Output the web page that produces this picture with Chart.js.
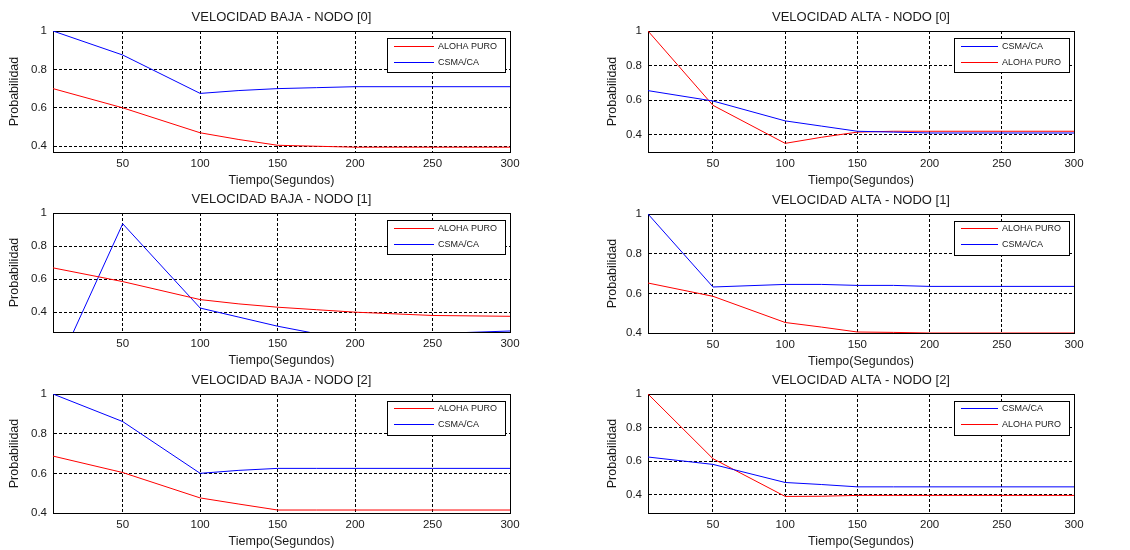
<!DOCTYPE html>
<html>
<head>
<meta charset="utf-8">
<script src="https://cdn.jsdelivr.net/npm/chart.js@4.4.0/dist/chart.umd.min.js"></script>
<style>
  body { margin: 0; background: #fff; width: 1130px; height: 550px; overflow: hidden; position: relative; }
  canvas { position: absolute; }
</style>
</head>
<body>
<script>
// Tiempo (segundos) of each sample, and the axis ticks
const tiempo = [5, 50, 100, 125, 150, 175, 200, 250, 300];
const xTicks = [50, 100, 150, 200, 250, 300];
const yTicks = [0.4, 0.6, 0.8, 1];

// velocidad baja
const bajaNodo0Aloha = [0.70, 0.60, 0.47, 0.435, 0.405, 0.40, 0.395, 0.395, 0.395];
const bajaNodo0Csma  = [1.00, 0.875, 0.675, 0.69, 0.70, 0.705, 0.71, 0.71, 0.71];
const bajaNodo1Aloha = [0.668, 0.585, 0.476, 0.45, 0.43, 0.415, 0.40, 0.38, 0.375];
const bajaNodo1Csma  = [0.01, 0.935, 0.425, 0.37, 0.315, 0.27, 0.26, 0.27, 0.286];
const bajaNodo2Aloha = [0.687, 0.604, 0.476, 0.445, 0.415, 0.415, 0.415, 0.415, 0.415];
const bajaNodo2Csma  = [1.00, 0.861, 0.60, 0.615, 0.625, 0.625, 0.625, 0.625, 0.625];

// velocidad alta
const altaNodo0Csma  = [0.655, 0.595, 0.48, 0.45, 0.42, 0.415, 0.41, 0.41, 0.41];
const altaNodo0Aloha = [1.00, 0.57, 0.35, 0.385, 0.415, 0.42, 0.42, 0.42, 0.42];
const altaNodo1Aloha = [0.652, 0.585, 0.453, 0.43, 0.405, 0.403, 0.40, 0.40, 0.40];
const altaNodo1Csma  = [1.00, 0.632, 0.645, 0.645, 0.64, 0.64, 0.635, 0.635, 0.635];
const altaNodo2Csma  = [0.624, 0.58, 0.472, 0.46, 0.446, 0.446, 0.446, 0.446, 0.446];
const altaNodo2Aloha = [1.00, 0.614, 0.389, 0.39, 0.395, 0.395, 0.395, 0.395, 0.395];

const ROJO = '#ff0000';
const AZUL = '#0000ff';
const TEXTO = '#1a1a1a';
const FUENTE = '"Liberation Sans", Arial, sans-serif';

const aloha = data => ({ label: 'ALOHA PURO', data, color: ROJO });
const csma = data => ({ label: 'CSMA/CA', data, color: AZUL });

// chart area box of each subplot, in page pixels
const paneles = [
  { titulo: 'VELOCIDAD BAJA - NODO [0]', area: [53, 31, 510, 152], yMin: 0.37, yPad: 7.5, lineLen: 40,
    series: [aloha(bajaNodo0Aloha), csma(bajaNodo0Csma)] },
  { titulo: 'VELOCIDAD ALTA - NODO [0]', area: [648, 31, 1074, 152], yMin: 0.30, yPad: 10.2, lineLen: 37,
    series: [csma(altaNodo0Csma), aloha(altaNodo0Aloha)] },
  { titulo: 'VELOCIDAD BAJA - NODO [1]', area: [53, 213, 510, 332], yMin: 0.28, yPad: 7.5, lineLen: 40,
    series: [aloha(bajaNodo1Aloha), csma(bajaNodo1Csma)] },
  { titulo: 'VELOCIDAD ALTA - NODO [1]', area: [648, 214, 1074, 333], yMin: 0.40, yPad: 10.2, lineLen: 37,
    series: [aloha(altaNodo1Aloha), csma(altaNodo1Csma)] },
  { titulo: 'VELOCIDAD BAJA - NODO [2]', area: [53, 394, 510, 513], yMin: 0.40, yPad: 7.5, lineLen: 40,
    series: [aloha(bajaNodo2Aloha), csma(bajaNodo2Csma)] },
  { titulo: 'VELOCIDAD ALTA - NODO [2]', area: [648, 394, 1074, 513], yMin: 0.29, yPad: 10.2, lineLen: 37,
    series: [csma(altaNodo2Csma), aloha(altaNodo2Aloha)] }
];

// solid box round the axes (matlab style)
const marco = {
  id: 'marco',
  beforeDatasetsDraw(chart) {
    const { ctx, chartArea: a } = chart;
    ctx.save();
    ctx.setLineDash([]);
    ctx.strokeStyle = '#000';
    ctx.lineWidth = 1;
    ctx.strokeRect(Math.round(a.left) + 0.5, Math.round(a.top) + 0.5,
      Math.round(a.right - a.left), Math.round(a.bottom - a.top));
    ctx.restore();
  }
};

// title centred over the axes
const titulo = {
  id: 'titulo',
  afterDraw(chart, args, opts) {
    const { ctx, chartArea: a } = chart;
    ctx.save();
    ctx.font = '13px ' + FUENTE;
    ctx.fillStyle = TEXTO;
    ctx.textAlign = 'center';
    ctx.textBaseline = 'middle';
    ctx.fillText(opts.text, (a.left + a.right) / 2, a.top - 14);
    ctx.restore();
  }
};

// boxed legend in the north-east corner, one per panel
function leyenda(p, canvasTop) {
  return {
    id: 'leyenda',
    afterDatasetsDraw(chart) {
      const { ctx, chartArea: a } = chart;
      ctx.save();
      ctx.setLineDash([]);
      ctx.font = '9px ' + FUENTE;
      const tw = Math.max(...p.series.map(s => ctx.measureText(s.label).width));
      const w = Math.round(7 + p.lineLen + 4 + tw + 8);
      const h = 34;
      const x = Math.round(a.right - 5 - w);
      const y = Math.round(a.top + 7);
      ctx.fillStyle = '#fff';
      ctx.fillRect(x, y, w, h);
      ctx.strokeStyle = '#000';
      ctx.lineWidth = 1;
      ctx.strokeRect(x + 0.5, y + 0.5, w, h);
      p.series.forEach((s, i) => {
        // keep the sample on an even page row so the thin line keeps its colour
        let ry = Math.round(y + 8 + i * 16);
        if ((ry + canvasTop) % 2) ry -= 1;
        ctx.fillStyle = s.color;
        ctx.fillRect(x + 7, ry, p.lineLen, 1);
        ctx.fillStyle = TEXTO;
        ctx.textBaseline = 'middle';
        ctx.textAlign = 'left';
        ctx.fillText(s.label, x + 7 + p.lineLen + 4, ry + 1);
      });
      ctx.restore();
    }
  };
}

paneles.forEach(p => {
  const [l, t, r, b] = p.area;
  const left = l - 53, top = t - 31;
  const width = r - left + 20, height = b + 38 - top;
  const canvas = document.createElement('canvas');
  canvas.width = width;
  canvas.height = height;
  canvas.style.left = left + 'px';
  canvas.style.top = top + 'px';
  canvas.style.width = width + 'px';
  canvas.style.height = height + 'px';
  document.body.appendChild(canvas);

  new Chart(canvas, {
    type: 'line',
    data: {
      datasets: p.series.map(s => ({
        label: s.label,
        data: tiempo.map((x, i) => ({ x, y: s.data[i] })),
        borderColor: s.color,
        borderWidth: 1,
        pointRadius: 0,
        tension: 0,
        fill: false
      }))
    },
    options: {
      responsive: false,
      animation: false,
      devicePixelRatio: 1,
      layout: { padding: { top: 31, right: 20, left: 0, bottom: 0 } },
      plugins: {
        legend: { display: false },
        tooltip: { enabled: false },
        titulo: { text: p.titulo }
      },
      scales: {
        x: {
          type: 'linear',
          min: 5,
          max: 300,
          afterBuildTicks: s => { s.ticks = xTicks.map(v => ({ value: v })); },
          afterFit: s => { s.height = 38; },
          ticks: { autoSkip: false, maxRotation: 0, padding: 5, color: TEXTO,
                   font: { family: FUENTE, size: 11.5 } },
          grid: { color: '#000', lineWidth: 1, drawTicks: false },
          border: { display: true, color: '#000', dash: [3, 2] },
          title: { display: true, text: 'Tiempo(Segundos)', color: TEXTO,
                   font: { family: FUENTE, size: 12.5 }, padding: { top: 0, bottom: 2 } }
        },
        y: {
          type: 'linear',
          min: p.yMin,
          max: 1,
          afterBuildTicks: s => { s.ticks = yTicks.filter(v => v >= p.yMin).map(v => ({ value: v })); },
          afterFit: s => { s.width = 53; },
          ticks: { autoSkip: false, padding: 6, color: TEXTO, callback: v => String(v),
                   font: { family: FUENTE, size: 11.5 } },
          grid: { color: '#000', lineWidth: 1, drawTicks: false },
          border: { display: true, color: '#000', dash: [3, 2] },
          title: { display: true, text: 'Probabilidad', color: TEXTO,
                   font: { family: FUENTE, size: 12.5 }, padding: { top: p.yPad, bottom: 0 } }
        }
      }
    },
    plugins: [marco, titulo, leyenda(p, top)]
  });
});
</script>
</body>
</html>
